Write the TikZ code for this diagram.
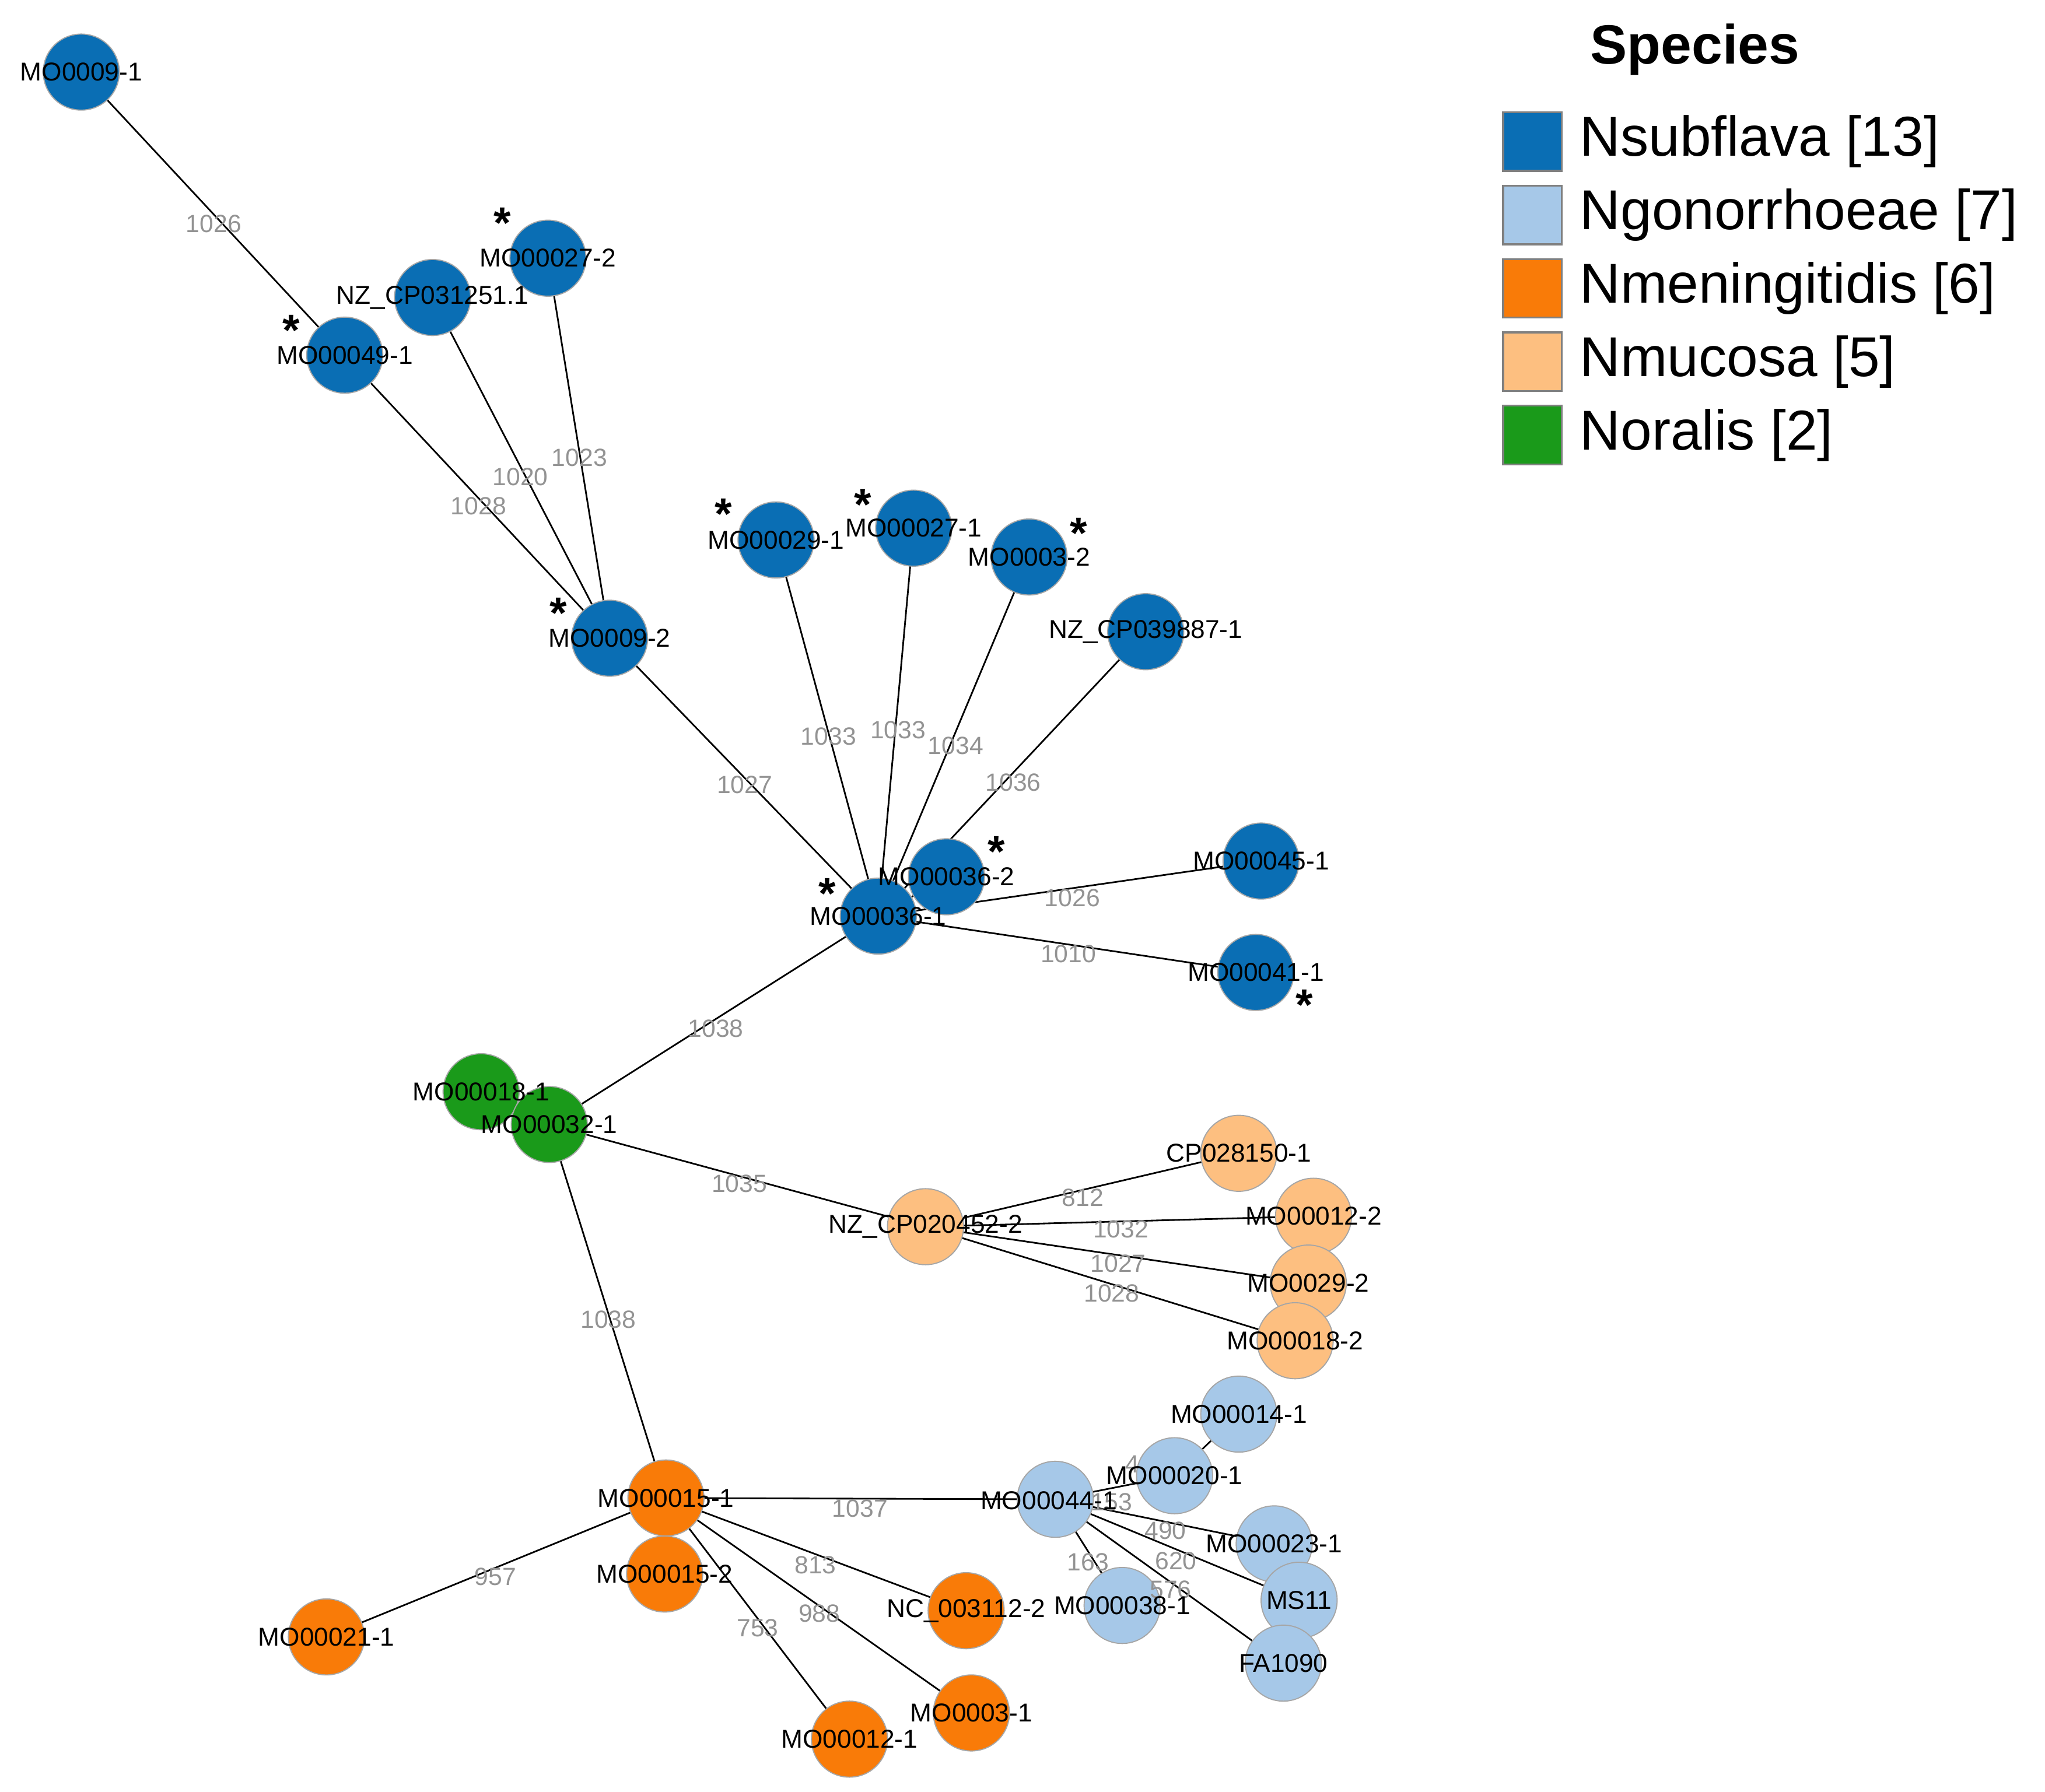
\documentclass[tikz,border=0pt]{standalone}
\usepackage{fontspec}
\setmainfont{Liberation Sans}
\begin{document}
\begin{tikzpicture}[x=0.025cm,y=-0.025cm,
  nd/.style={circle,draw=gray!70,line width=0.6pt,minimum size=1.45cm,inner sep=0pt},
  lb/.style={font=\fontsize{14}{14}\selectfont,text=black,inner sep=0pt},
  el/.style={font=\fontsize{13.5}{13.5}\selectfont,text=gray!85,inner sep=0pt},
  ed/.style={line width=0.9pt,black},
  st/.style={font=\fontsize{24}{24}\selectfont\bfseries,inner sep=0pt},
  lg/.style={draw=gray,line width=1pt,minimum size=1.12cm,inner sep=0pt},
  lt/.style={anchor=west,font=\fontsize{30.5}{30.5}\selectfont,inner sep=0pt}]
\definecolor{cb}{HTML}{0A6EB4}
\definecolor{clb}{HTML}{A6C8E8}
\definecolor{co}{HTML}{F97B08}
\definecolor{clo}{HTML}{FDBF80}
\definecolor{cg}{HTML}{1A9A1A}
\useasboundingbox (0,0) rectangle (1560,1367);
\foreach \n/\x/\y in {a/62/55,b/330/227,c/418/197,d/263/271,e/465/487,f/592/412,g/697/403,h/785/425,i/874/482,k/670/699,j/722/669,l/962/657,m/958/742,
 n/367/833,o/419/858,
 p/945/880,r/1002/928,s/998/979,t/988/1023,q/706/936,
 u/945/1079,v/896/1126,x/972/1178,y/991/1221,z/979/1269,aa/856/1225,w/805/1144,
 bb/508/1143,cc/507/1201,dd/737/1229,ee/741/1307,ff/648/1327,gg/249/1249}
  \coordinate (\n) at (\x,\y);
\foreach \s/\t in {a/d,d/e,b/e,c/e,e/k,f/k,g/k,h/k,i/k,k/j,k/l,k/m,k/o,n/o,o/q,q/p,q/r,q/s,q/t,o/bb,bb/w,bb/gg,bb/cc,bb/dd,bb/ee,bb/ff,w/v,v/u,w/x,w/y,w/z,w/aa}
  \draw[ed] (\s) -- (\t);
\foreach \n/\c in {a/cb,b/cb,c/cb,d/cb,e/cb,f/cb,g/cb,h/cb,i/cb,k/cb,j/cb,l/cb,m/cb,n/cg,o/cg,p/clo,r/clo,s/clo,t/clo,q/clo,u/clb,v/clb,x/clb,y/clb,z/clb,aa/clb,w/clb,bb/co,cc/co,dd/co,ee/co,ff/co,gg/co}
  \node[nd,fill=\c] (N\n) at (\n) {};
\foreach \x/\y/\t in {163/171/1026,365/386/1028,397/364/1020,442/349/1023,568/599/1027,632/562/1033,685/557/1033,729/569/1034,773/597/1036,818/685/1026,815/728/1010,546/785/1038,564/903/1035,826/914/812,855/938/1032,853/964/1027,848/987/1028,464/1007/1038,656/1151/1037,378/1203/957,622/1194/813,625/1231/988,578/1242/753,864/1117/4,889/1168/490,848/1146/153,897/1191/620,893/1213/576,830/1192/163}
  \node[el] (E\x) at (\x,\y) {\t};
\foreach \n/\t in {a/MO0009-1,b/NZ\_CP031251.1,c/MO00027-2,d/MO00049-1,e/MO0009-2,f/MO00029-1,g/MO00027-1,h/MO0003-2,i/NZ\_CP039887-1,j/MO00036-2,k/MO00036-1,l/MO00045-1,m/MO00041-1,n/MO00018-1,o/MO00032-1,p/CP028150-1,q/NZ\_CP020452-2,r/MO00012-2,s/MO0029-2,t/MO00018-2,u/MO00014-1,v/MO00020-1,x/MO00023-1,y/MS11,z/FA1090,aa/MO00038-1,bb/MO00015-1,cc/MO00015-2,dd/NC\_003112-2,ee/MO0003-1,ff/MO00012-1,gg/MO00021-1}
  \node[lb] (L\n) at (\n) {\t};
\node[lb] (Lw) at (800,1145) {MO00044-1};
\foreach \x/\y in {383/170,222/252,426/468,552/392,658/385,823/407,760/650,631/682,995/767}
  \node[st] (S\x) at (\x,\y) {*};
\node[font=\fontsize{30}{30}\selectfont\bfseries,inner sep=0pt] (title) at (1293,38) {Species};
\foreach \y/\c/\t in {108/cb/{Nsubflava [13]},164/clb/{Ngonorrhoeae [7]},220/co/{Nmeningitidis [6]},276/clo/{Nmucosa [5]},332/cg/{Noralis [2]}}{
  \node[lg,fill=\c] (B\y) at (1169,\y) {};
  \node[lt] (T\y) at (1205,\y) {\t};
}
\end{tikzpicture}
\end{document}
